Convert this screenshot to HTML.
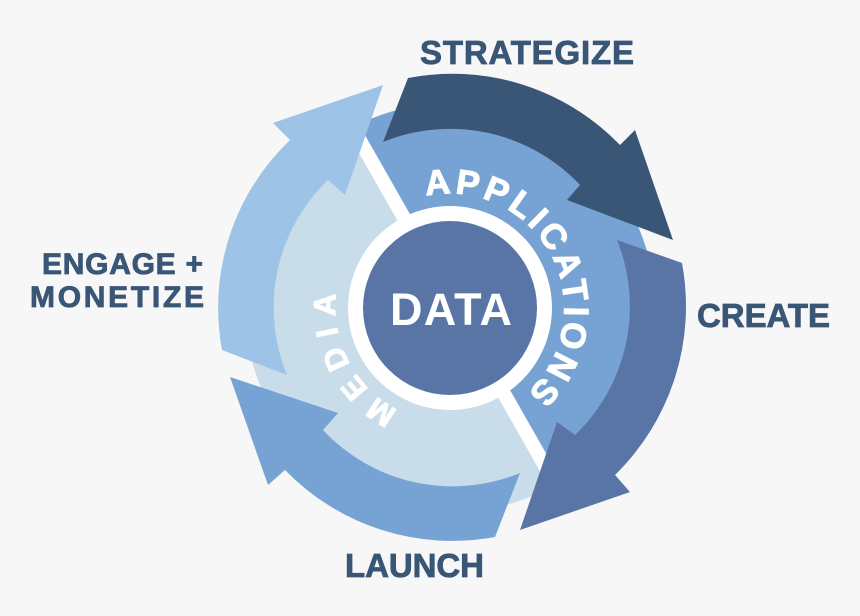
<!DOCTYPE html>
<html><head><meta charset="utf-8"><style>
html,body{margin:0;padding:0;background:#f7f7f7}
svg{display:block}
text{font-family:"Liberation Sans","DejaVu Sans",sans-serif;font-weight:bold}
</style></head><body>
<svg width="860" height="616" viewBox="0 0 860 616" xmlns="http://www.w3.org/2000/svg">
<rect width="860" height="616" fill="#f7f7f7"/>
<defs>
<clipPath id="half"><polygon points="363,147 -200,-800 1200,-800 1200,1400 543,460"/></clipPath>
<path id="appPath" d="M 426 196 A 115 115 0 0 1 524 396"/>
<path id="mediaPath" d="M 398 410 A 115 115 0 0 1 337 288"/>
</defs>
<circle cx="450" cy="308" r="205" fill="#c9dcea"/>
<circle cx="450" cy="308" r="205" fill="#77a2d4" clip-path="url(#half)"/>
<line x1="354" y1="130" x2="552" y2="478" stroke="#ffffff" stroke-width="14"/>
<circle cx="450" cy="308" r="102" fill="#ffffff"/>
<circle cx="450" cy="308" r="87" fill="#5875a6"/>
<path d="M408,78 A233,233 0 0 1 620,145 L635,130 L673,240 L567,200 L580,185 A178,178 0 0 0 383,142 Z" fill="#3a5676"/>
<path d="M682,263 A236,236 0 0 1 615,475 L630,492 L520,530 L557,422 L575,435 A178,178 0 0 0 617,240 Z" fill="#5875a6"/>
<path d="M495,537 A233,233 0 0 1 285,470 L268,485 L230,377 L338,413 L323,430 A177,177 0 0 0 520,473 Z" fill="#77a2d4"/>
<path d="M222,350 A232,232 0 0 1 290,140 L273,123 L383,85 L345,195 L328,180 A177,177 0 0 0 287,375 Z" fill="#9dc4e6"/>
<text font-size="35" fill="#ffffff" stroke="#ffffff" stroke-width="1"><textPath href="#appPath" textLength="298" lengthAdjust="spacing">APPLICATIONS</textPath></text>
<text font-size="31" fill="#ffffff" stroke="#ffffff" stroke-width="1"><textPath href="#mediaPath" textLength="140" lengthAdjust="spacing">MEDIA</textPath></text>
<text x="451" y="325" font-size="45" fill="#ffffff" text-anchor="middle" textLength="122" lengthAdjust="spacing">DATA</text>
<g fill="#3a5676" stroke="#3a5676" stroke-width="0.8">
<text x="420" y="64" font-size="33" textLength="214" lengthAdjust="spacing">STRATEGIZE</text>
<text x="42" y="274" font-size="30" textLength="161" lengthAdjust="spacing">ENGAGE +</text>
<text x="30" y="307" font-size="30" textLength="174" lengthAdjust="spacing">MONETIZE</text>
<text x="697" y="327" font-size="33" textLength="133" lengthAdjust="spacing">CREATE</text>
<text x="345" y="577" font-size="33" textLength="139" lengthAdjust="spacing">LAUNCH</text>
</g>
</svg>
</body></html>
